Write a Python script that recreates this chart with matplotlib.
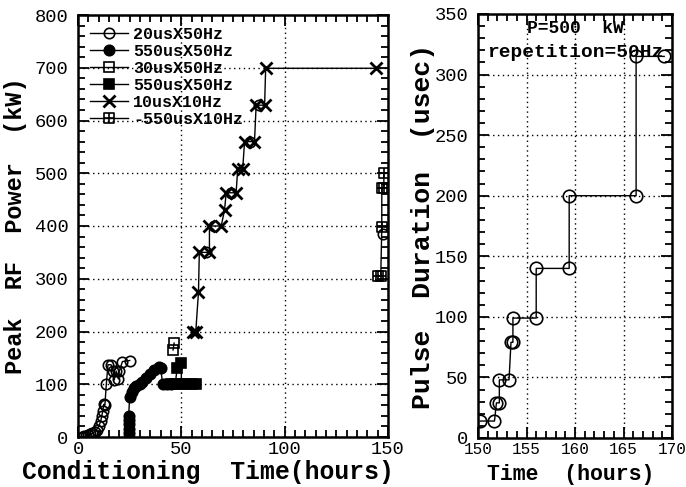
import matplotlib
matplotlib.use("Agg")
import matplotlib.pyplot as plt
from matplotlib.path import Path
from matplotlib.ticker import MultipleLocator

# ---------------- data (left panel) ----------------
labels = ["20usX50Hz", "550usX50Hz", "30usX50Hz", "550usX50Hz", "10usX10Hz", "-550usX10Hz"]

s1_x = [2, 3, 4, 5, 6, 7, 8, 9, 10, 11, 11.5, 12, 12.5, 13, 13.7, 14.5, 16, 17, 17.5, 18.5, 19.5, 20, 21.5, 25]
s1_y = [0, 1, 2, 3, 5, 7, 10, 14, 20, 30, 40, 50, 62, 60, 100, 137, 137, 125, 108, 125, 110, 125, 143, 145]

s2_x = [24.5, 24.5, 24.5, 24.5, 24.5, 24.5, 25, 26, 27, 28, 30, 31, 33, 35, 37, 39, 40, 41, 43, 45]
s2_y = [0, 8, 16, 24, 32, 40, 75, 85, 92, 97, 100, 105, 112, 120, 127, 132, 130, 100, 100, 100]

s3_x = [46, 46.5]
s3_y = [165, 178]

s4_x = [45, 47, 48, 50, 50, 52, 55, 57]
s4_y = [100, 100, 130, 140, 100, 100, 100, 100]

s5_x = [55.5, 57, 58.3, 58.7, 63.6, 63.6, 69.3, 70.9, 71.7, 76.5, 77.3, 79.7, 80.6, 85.4, 86.2, 90.3, 90.8, 144]
s5_y = [200, 200, 275, 350, 350, 400, 400, 430, 463, 463, 509, 509, 560, 560, 629, 629, 699, 699]

s6_x = [145, 146.5, 147, 147, 148, 148]
s6_y = [305, 305, 398, 472, 472, 500]

ring_x = [62, 66, 74, 83, 87.4, 147.5]
ring_y = [350, 400, 463, 560, 629, 385]

# ---------------- data (right panel) ----------------
pd_x = [150.2, 151.7, 151.9, 152.2, 152.2, 153.2, 153.4, 153.6, 153.6, 156.0, 156.0, 159.4, 159.4, 166.3, 166.3, 169.2]
pd_y = [14, 14, 29, 29, 48, 48, 79, 79, 99, 99, 140, 140, 200, 200, 315, 315]

left_xticks = [0, 50, 100, 150]
left_yticks = [0, 100, 200, 300, 400, 500, 600, 700, 800]
right_xticks = [150, 155, 160, 165, 170]
right_yticks = [0, 50, 100, 150, 200, 250, 300, 350]

# ---------------- style ----------------
MONO = "Liberation Mono"
plt.rcParams["font.family"] = [MONO, "DejaVu Sans"]
plt.rcParams["axes.linewidth"] = 1.8

boxplus = Path(
    [(-1, -1), (1, -1), (1, 1), (-1, 1), (-1, -1), (-1, 0), (1, 0), (0, -1), (0, 1)],
    [Path.MOVETO, Path.LINETO, Path.LINETO, Path.LINETO, Path.CLOSEPOLY,
     Path.MOVETO, Path.LINETO, Path.MOVETO, Path.LINETO],
)

fig = plt.figure(figsize=(6.86, 4.87), dpi=100)
ax1 = fig.add_axes([78 / 686, 1 - 437 / 487, 310 / 686, 422 / 487])
ax2 = fig.add_axes([478 / 686, 1 - 438 / 487, 194 / 686, 424 / 487])

lw = 1.0
ms = 7.5
mew = 1.2
k = "black"

ax1.plot(s1_x, s1_y, color=k, lw=lw, marker="o", ms=ms, mfc="none", mec=k, mew=mew, label=labels[0])
ax1.plot(s2_x, s2_y, color=k, lw=lw, marker="o", ms=ms, mfc=k, mec=k, mew=mew, label=labels[1])
ax1.plot(s3_x, s3_y, color=k, lw=lw, marker="s", ms=ms, mfc="none", mec=k, mew=mew, label=labels[2])
ax1.plot(s4_x, s4_y, color=k, lw=lw, marker="s", ms=ms, mfc=k, mec=k, mew=mew, label=labels[3])
ax1.plot(s5_x, s5_y, color=k, lw=lw, marker="x", ms=9, mec=k, mew=2.0, label=labels[4])
ax1.plot(s6_x, s6_y, color=k, lw=lw, marker=boxplus, ms=ms, mfc="none", mec=k, mew=mew, label=labels[5])
ax1.plot(ring_x, ring_y, ls="none", marker="o", ms=ms, mfc="none", mec=k, mew=mew)

ax2.plot(pd_x, pd_y, color=k, lw=lw, marker="o", ms=9, mfc="none", mec=k, mew=mew)

def style(ax, xt, yt, xminor, yminor, xlim, ylim, xfs, yfs):
    ax.set_xlim(*xlim)
    ax.set_ylim(*ylim)
    ax.set_xticks(xt)
    ax.set_yticks(yt)
    ax.xaxis.set_minor_locator(MultipleLocator(xminor))
    ax.yaxis.set_minor_locator(MultipleLocator(yminor))
    ax.tick_params(which="both", direction="in", top=True, right=True, width=1.3, color=k)
    ax.tick_params(which="major", length=8)
    ax.tick_params(which="minor", length=5)
    ax.tick_params(axis="x", which="major", labelsize=xfs, pad=3)
    ax.tick_params(axis="y", which="major", labelsize=yfs, pad=7)
    ax.grid(True, which="major", color=k, ls=(0, (1, 2.5)), lw=1.0)
    for lab in ax.get_xticklabels() + ax.get_yticklabels():
        lab.set_fontfamily(MONO)

style(ax1, left_xticks, left_yticks, 5, 20, (0, 150), (0, 800), 13.5, 13.5)
style(ax2, right_xticks, right_yticks, 1, 10, (150, 170), (0, 350), 11.5, 13.5)

ax1.set_xlabel("Conditioning  Time(hours)", fontsize=17.8, fontweight="bold", family=MONO)
ax1.set_ylabel("Peak  RF  Power  (kW)", fontsize=17, fontweight="bold", family=MONO)
ax1.xaxis.set_label_coords(0.42, -0.055)
ax1.yaxis.set_label_coords(-0.165, 0.5)

ax2.set_xlabel("Time  (hours)", fontsize=15.5, fontweight="bold", family=MONO)
ax2.set_ylabel("Pulse  Duration  (usec)", fontsize=19, fontweight="bold", family=MONO)
ax2.xaxis.set_label_coords(0.48, -0.062)
ax2.yaxis.set_label_coords(-0.22, 0.5)

ax2.text(0.5, 0.985, "P=500  kW", transform=ax2.transAxes, ha="center", va="top",
         fontsize=13, fontweight="bold", family=MONO)
ax2.text(0.5, 0.93, "repetition=50Hz", transform=ax2.transAxes, ha="center", va="top",
         fontsize=14, fontweight="bold", family=MONO)

leg = ax1.legend(loc="upper left", frameon=False, numpoints=1, handlelength=2.3,
                 handletextpad=0.3, labelspacing=0.12, borderaxespad=0.3,
                 prop={"family": MONO, "weight": "bold", "size": 12})

fig.savefig("out.png", dpi=100)
